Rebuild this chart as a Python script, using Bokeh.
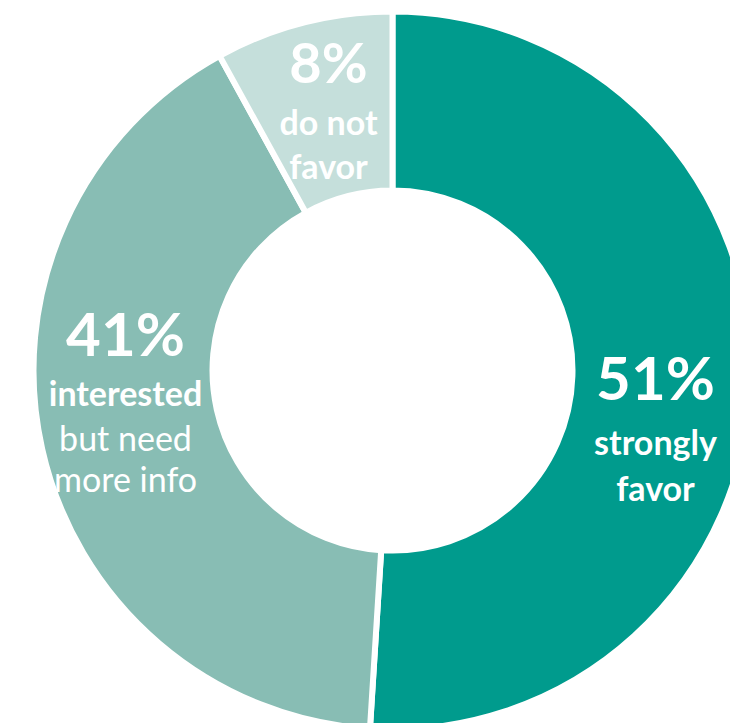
import math
from bokeh.plotting import figure
from bokeh.models import Range1d, ColumnDataSource
from bokeh.core.properties import value
from bokeh.embed import file_html
from bokeh.resources import INLINE

# Data
categories = ["strongly favor", "interested but need more info", "do not favor"]
shares = [51, 41, 8]
colors = ["#009B8D", "#88BDB4", "#C5DFDB"]

# Labels
pct_labels = ["51%", "41%", "8%"]

W, H = 730, 723
CX, CY = 392, H - 370
R_OUT, R_IN = 359, 180

p = figure(width=W, height=H, x_range=Range1d(0, W), y_range=Range1d(0, H),
           output_backend="svg", toolbar_location=None, min_border=0)
p.axis.visible = False
p.grid.visible = False
p.outline_line_color = None
p.background_fill_color = "white"
p.border_fill_color = "white"

total = sum(shares)
starts, ends = [], []
cum = 0
for s in shares:
    starts.append(math.radians(90 - cum / total * 360))
    cum += s
    ends.append(math.radians(90 - cum / total * 360))

src = ColumnDataSource(dict(start=starts, end=ends, color=colors,
                            x=[CX] * 3, y=[CY] * 3))
p.annular_wedge(x="x", y="y", inner_radius=R_IN, outer_radius=R_OUT,
                start_angle="start", end_angle="end", direction="clock",
                fill_color="color", line_color="white", line_width=6, source=src)

FONT = value("Lato")

# label placement (pixel coordinates from top)
pct_pos = [(655, 376, "60px"), (125, 332, "60px"), (328, 61, "56px")]
sub_lines = [
    [("strongly", 441, "bold"), ("favor", 487, "bold")],
    [("interested", 392, "bold"), ("but need", 437, "normal"), ("more info", 478, "normal")],
    [("do not", 121, "bold"), ("favor", 165, "bold")],
]

for lbl, (x, y, fs), lines in zip(pct_labels, pct_pos, sub_lines):
    p.text(x=[x], y=[H - y], text=[lbl], text_font=FONT, text_font_size=fs,
           text_color="white", text_align="center", text_baseline="middle",
           text_font_style="bold")
    for t, ly, st in lines:
        p.text(x=[x], y=[H - ly], text=[t], text_font=FONT, text_font_size="34px",
               text_color="white", text_align="center", text_baseline="middle",
               text_font_style=st)

open("out.html", "w").write(file_html(p, INLINE))
